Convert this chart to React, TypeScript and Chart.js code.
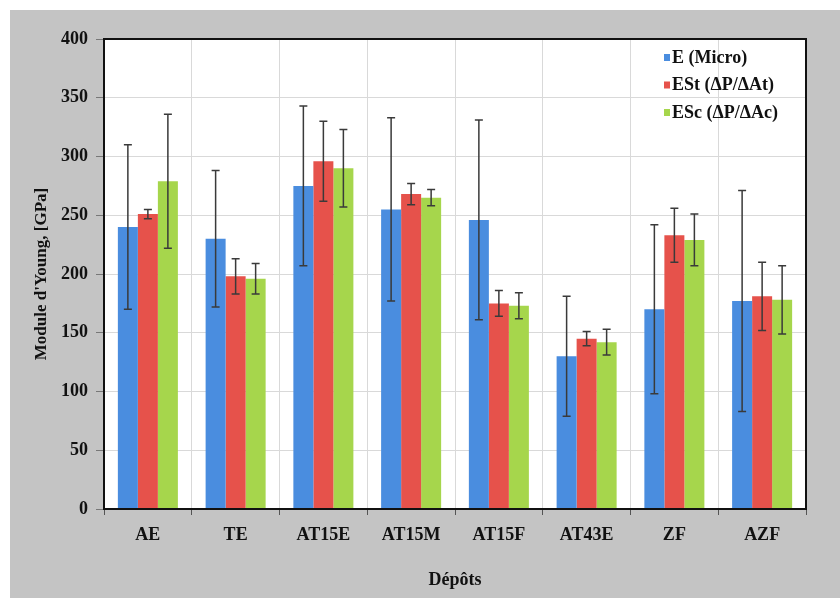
import React, { useEffect, useRef } from "react";
import { Chart, registerables } from "chart.js";

Chart.register(...registerables);

const categories = ["AE", "TE", "AT15E", "AT15M", "AT15F", "AT43E", "ZF", "AZF"];
const seriesLabels = ["E (Micro)", "ESt (ΔP/ΔAt)", "ESc (ΔP/ΔAc)"];
const eMicro = [240, 230, 275, 255, 246, 130, 170, 177];
const eMicroErr = [70, 58, 68, 78, 85, 51, 72, 94];
const eSt = [251, 198, 296, 268, 175, 145, 233, 181];
const eStErr = [4, 15, 34, 9, 11, 6, 23, 29];
const eSc = [279, 196, 290, 265, 173, 142, 229, 178];
const eScErr = [57, 13, 33, 7, 11, 11, 22, 29];
const seriesColors = ["#4a8ddf", "#e6524b", "#a6d64c"];
const yMin = 0;
const yMax = 400;
const yStep = 50;
const xTitle = "Dépôts";
const yTitle = "Module d'Young, [GPa]";

const errors = [eMicroErr, eStErr, eScErr];
const FONT = "'Liberation Serif', 'Times New Roman', serif";

const bgPlugin = {
  id: "bgPlugin",
  beforeDraw(chart: any) {
    const { ctx, chartArea: a } = chart;
    ctx.save();
    ctx.fillStyle = "#ffffff";
    ctx.fillRect(a.left, a.top, a.right - a.left, a.bottom - a.top);
    ctx.restore();
  },
};

const errorBarPlugin = {
  id: "errorBarPlugin",
  afterDatasetsDraw(chart: any) {
    const { ctx } = chart;
    const yScale = chart.scales.y;
    ctx.save();
    ctx.strokeStyle = "#3a3a3a";
    ctx.lineWidth = 1.5;
    chart.data.datasets.forEach((ds: any, di: number) => {
      const meta = chart.getDatasetMeta(di);
      meta.data.forEach((el: any, i: number) => {
        const v = ds.data[i];
        const e = errors[di][i];
        const x = el.x;
        const yt = yScale.getPixelForValue(v + e);
        const yb = yScale.getPixelForValue(v - e);
        ctx.beginPath();
        ctx.moveTo(x, yt);
        ctx.lineTo(x, yb);
        ctx.moveTo(x - 4, yt);
        ctx.lineTo(x + 4, yt);
        ctx.moveTo(x - 4, yb);
        ctx.lineTo(x + 4, yb);
        ctx.stroke();
      });
    });
    ctx.restore();
  },
};

const framePlugin = {
  id: "framePlugin",
  afterDraw(chart: any) {
    const { ctx, chartArea: a } = chart;
    ctx.save();
    ctx.strokeStyle = "#111111";
    ctx.lineWidth = 2;
    ctx.strokeRect(a.left, a.top, a.right - a.left, a.bottom - a.top);
    // legend
    const lx = a.right - 142;
    const ly = a.top + 19;
    ctx.font = `bold 18px ${FONT}`;
    ctx.textBaseline = "middle";
    ctx.textAlign = "left";
    chart.data.datasets.forEach((ds: any, di: number) => {
      const y = ly + di * 27.5;
      ctx.fillStyle = ds.backgroundColor;
      ctx.fillRect(lx, y - 4, 6, 7);
      ctx.fillStyle = "#111111";
      ctx.fillText(ds.label, lx + 8, y);
    });
    ctx.restore();
  },
};

export default function App() {
  const ref = useRef<HTMLCanvasElement | null>(null);
  useEffect(() => {
    if (!ref.current) return;
    const tickFont = { family: FONT, size: 18, weight: "bold" as const };
    const chart = new Chart(ref.current, {
      type: "bar",
      data: {
        labels: categories,
        datasets: [eMicro, eSt, eSc].map((d, i) => ({
          label: seriesLabels[i],
          data: d,
          backgroundColor: seriesColors[i],
          borderWidth: 0,
          barPercentage: 1,
          categoryPercentage: 0.684,
        })),
      },
      options: {
        responsive: false,
        animation: false,
        layout: { padding: { top: 29, right: 34, left: 0, bottom: 0 } },
        plugins: { legend: { display: false }, tooltip: { enabled: false } },
        scales: {
          x: {
            grid: { offset: true, color: "#d9d9d9", tickLength: 6, tickColor: "#555555", lineWidth: 1 },
            border: { color: "#111111", width: 2 },
            ticks: { font: tickFont, color: "#111111", padding: 10 },
            title: {
              display: true,
              text: xTitle,
              font: { family: FONT, size: 18, weight: "bold" },
              color: "#111111",
              padding: { top: 0, bottom: 7 },
            },
            afterFit(s: any) {
              s.height = 89;
            },
          },
          y: {
            min: yMin,
            max: yMax,
            grid: { color: "#d9d9d9", tickLength: 8, tickColor: "#777777", lineWidth: 1 },
            border: { color: "#111111", width: 2 },
            ticks: { stepSize: yStep, font: tickFont, color: "#111111", padding: 8 },
            title: {
              display: true,
              text: yTitle,
              font: { family: FONT, size: 17, weight: "bold" },
              color: "#111111",
              padding: { top: 21, bottom: 0 },
            },
            afterFit(s: any) {
              s.width = 94;
            },
          },
        },
      },
      plugins: [bgPlugin, errorBarPlugin, framePlugin],
    });
    return () => chart.destroy();
  }, []);
  return (
    <div
      style={{
        position: "fixed",
        left: 10,
        top: 10,
        width: 830,
        height: 588,
        background: "#c4c4c4",
      }}
    >
      <canvas ref={ref} width={830} height={588} style={{ display: "block" }} />
    </div>
  );
}
